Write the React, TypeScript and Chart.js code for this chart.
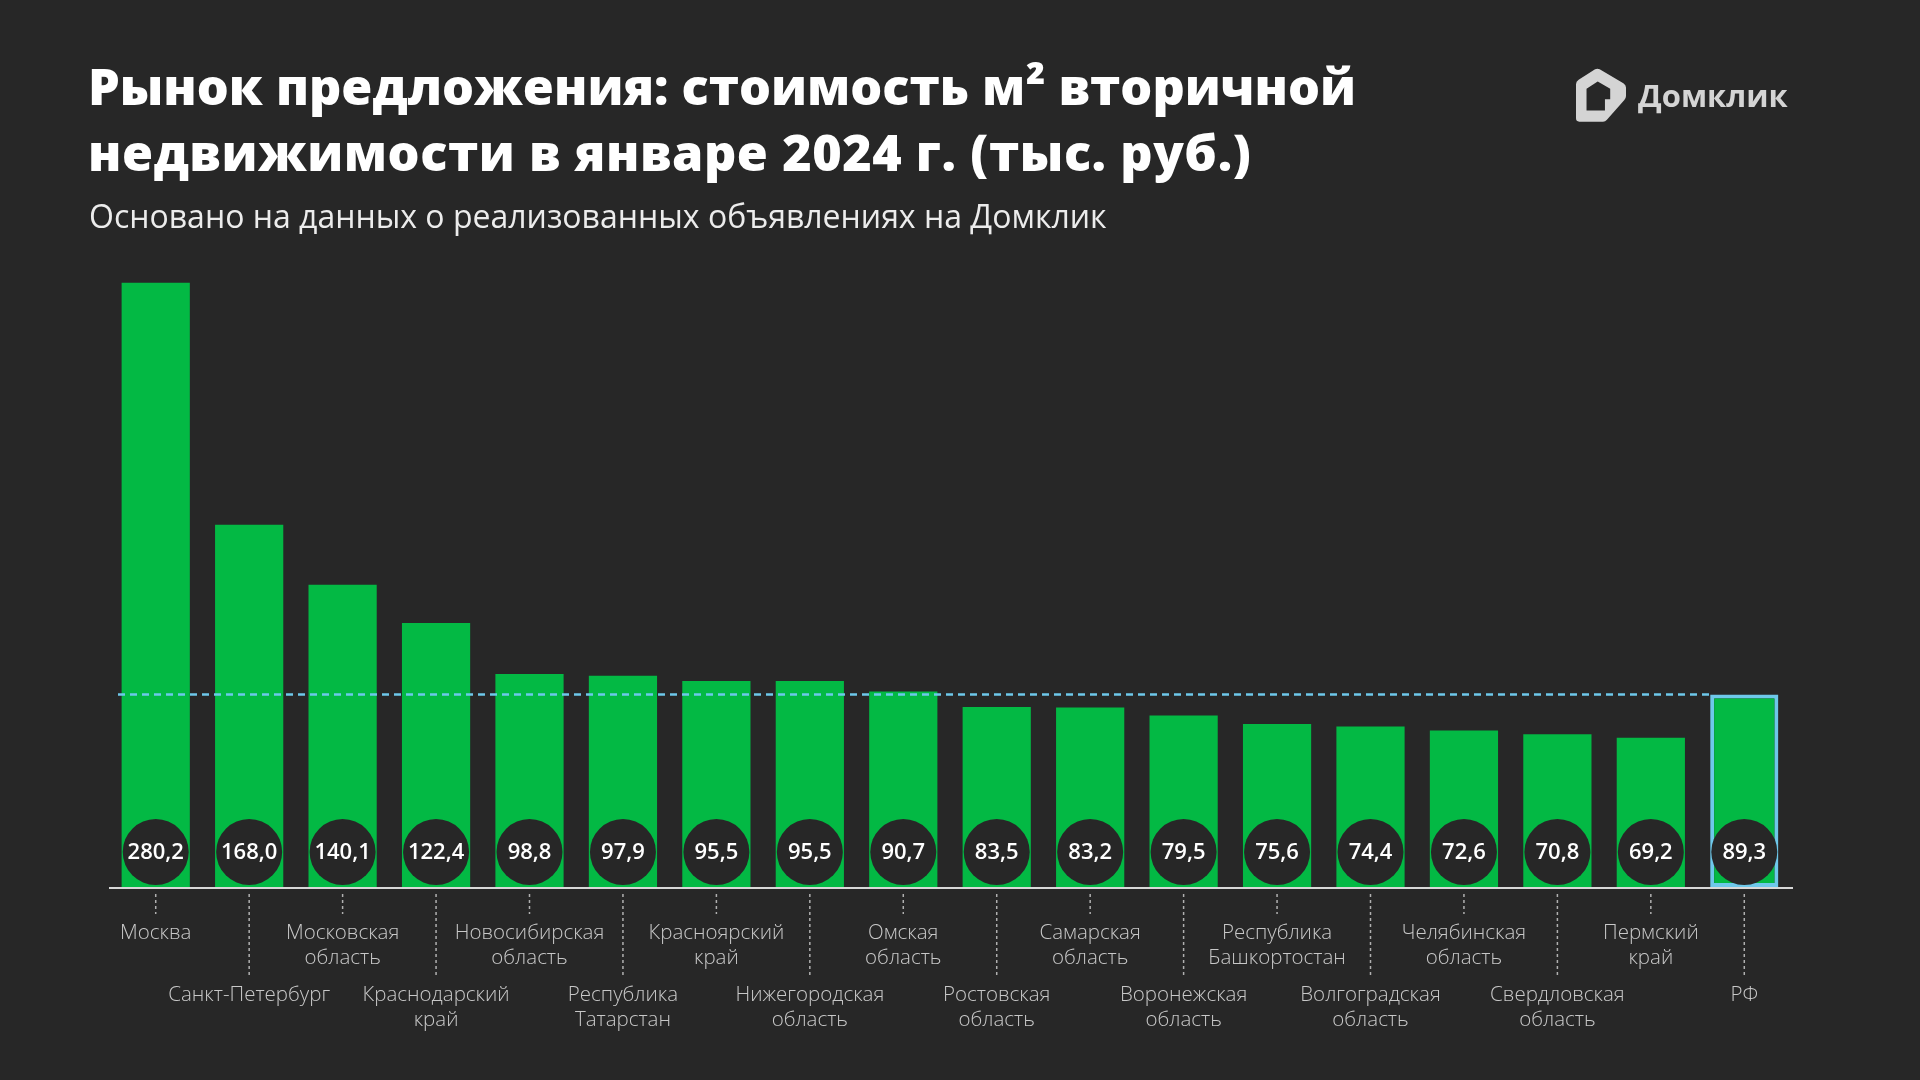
import React, { useEffect, useRef } from "react";
import { Chart, registerables } from "chart.js";

Chart.register(...registerables);

const categories: string[][] = [
  ["Москва"],
  ["Санкт-Петербург"],
  ["Московская", "область"],
  ["Краснодарский", "край"],
  ["Новосибирская", "область"],
  ["Республика", "Татарстан"],
  ["Красноярский", "край"],
  ["Нижегородская", "область"],
  ["Омская", "область"],
  ["Ростовская", "область"],
  ["Самарская", "область"],
  ["Воронежская", "область"],
  ["Республика", "Башкортостан"],
  ["Волгоградская", "область"],
  ["Челябинская", "область"],
  ["Свердловская", "область"],
  ["Пермский", "край"],
  ["РФ"],
];

const prices: number[] = [
  280.2, 168.0, 140.1, 122.4, 98.8, 97.9, 95.5, 95.5, 90.7, 83.5, 83.2, 79.5,
  75.6, 74.4, 72.6, 70.8, 69.2, 89.3,
];

const averageIndex = 17;

const TITLE_LINES = [
  "Рынок предложения: стоимость м² вторичной",
  "недвижимости в январе 2024 г. (тыс. руб.)",
];
const TITLE_SPACING = ["0px", "0.55px"];
const SUBTITLE = "Основано на данных о реализованных объявлениях на Домклик";

const BG = "#272727";
const GREEN = "#03b944";
const BLUE = "#6ec8ea";

const overlayPlugin = {
  id: "overlay",
  afterDatasetsDraw(chart: any) {
    const { ctx, chartArea, scales } = chart;
    const xs = scales.x;
    const ys = scales.y;
    const y0 = ys.getPixelForValue(0);
    const meta = chart.getDatasetMeta(0);

    ctx.save();
    // average dashed line
    const avgY = ys.getPixelForValue(prices[averageIndex]);
    const rfBar = meta.data[averageIndex];
    ctx.strokeStyle = BLUE;
    ctx.lineWidth = 2.5;
    ctx.setLineDash([7, 5]);
    ctx.beginPath();
    ctx.moveTo(chartArea.left + 9, avgY);
    ctx.lineTo(rfBar.x - rfBar.width / 2, avgY);
    ctx.stroke();
    ctx.setLineDash([]);

    // axis line
    ctx.strokeStyle = "#d8d8d8";
    ctx.lineWidth = 2;
    ctx.beginPath();
    ctx.moveTo(chartArea.left, y0 + 1);
    ctx.lineTo(chartArea.right + 2, y0 + 1);
    ctx.stroke();

    // value circles
    prices.forEach((v, i) => {
      const cx = xs.getPixelForValue(i);
      const cy = y0 - 35;
      ctx.fillStyle = BG;
      ctx.beginPath();
      ctx.arc(cx, cy, 33, 0, Math.PI * 2);
      ctx.fill();
      ctx.fillStyle = "#ffffff";
      ctx.font = "600 22px 'Open Sans'";
      ctx.textAlign = "center";
      ctx.textBaseline = "middle";
      ctx.fillText(v.toFixed(1).replace(".", ","), cx, cy + 1);
    });

    // category labels with dotted ticks
    categories.forEach((lines, i) => {
      const cx = xs.getPixelForValue(i);
      const row2 = i % 2 === 1;
      ctx.strokeStyle = "#b0b0b0";
      ctx.lineWidth = 1.5;
      ctx.setLineDash([3, 3]);
      ctx.beginPath();
      ctx.moveTo(cx, y0 + 7);
      ctx.lineTo(cx, row2 ? y0 + 88 : y0 + 27);
      ctx.stroke();
      ctx.setLineDash([]);
      ctx.fillStyle = "#c8c8c8";
      ctx.font = "300 20.5px 'Open Sans'";
      ctx.textAlign = "center";
      ctx.textBaseline = "middle";
      const startY = row2 ? y0 + 108 : y0 + 46;
      lines.forEach((ln, k) => {
        ctx.fillText(ln, cx, startY + k * 25);
      });
    });
    ctx.restore();
  },
};

export default function App() {
  const canvasRef = useRef<HTMLCanvasElement | null>(null);

  useEffect(() => {
    document.body.style.margin = "0";
    document.body.style.background = BG;
    const canvas = canvasRef.current;
    if (!canvas) return;
    const chart = new Chart(canvas, {
      type: "bar",
      data: {
        labels: categories.map((c) => c.join(" ")),
        datasets: [
          {
            data: prices,
            backgroundColor: GREEN,
            borderColor: prices.map((_, i) => (i === averageIndex ? BLUE : GREEN)),
            borderWidth: prices.map((_, i) => (i === averageIndex ? 4 : 0)),
            borderSkipped: false,
            categoryPercentage: 1,
            barPercentage: 0.73,
          },
        ],
      },
      options: {
        responsive: false,
        animation: false,
        devicePixelRatio: 1,
        layout: { padding: { left: 109, right: 129, top: 240, bottom: 193 } },
        plugins: {
          legend: { display: false },
          title: { display: false },
          tooltip: { enabled: false },
        },
        scales: {
          x: { display: false, offset: true },
          y: { display: false, min: 0, max: 300 },
        },
      },
      plugins: [overlayPlugin],
    });
    return () => chart.destroy();
  }, []);

  return (
    <div
      style={{
        position: "absolute",
        left: 0,
        top: 0,
        width: 1920,
        height: 1080,
        background: BG,
        overflow: "hidden",
      }}
    >
      <canvas
        ref={canvasRef}
        width={1920}
        height={1080}
        style={{ position: "absolute", left: 0, top: 0, width: 1920, height: 1080 }}
      />
      <div
        style={{
          position: "absolute",
          left: 88,
          top: 53,
          color: "#ffffff",
          fontFamily: "'Open Sans', sans-serif",
          fontWeight: 800,
          fontSize: 50.3,
          lineHeight: "66px",
          whiteSpace: "nowrap",
        }}
      >
        {TITLE_LINES.map((l, i) => (
          <div key={i} style={{ letterSpacing: TITLE_SPACING[i] }}>
            {l}
          </div>
        ))}
      </div>
      <div
        style={{
          position: "absolute",
          left: 89,
          top: 196,
          color: "#ececec",
          fontFamily: "'Open Sans', sans-serif",
          fontWeight: 400,
          fontSize: 32,
          lineHeight: "40px",
          whiteSpace: "nowrap",
        }}
      >
        {SUBTITLE}
      </div>
      <div
        style={{
          position: "absolute",
          left: 1576,
          top: 68,
          display: "flex",
          alignItems: "center",
        }}
      >
        <svg width={50} height={54} viewBox="0 0 152 162">
          <path
            fillRule="evenodd"
            fill="#d4d4d4"
            d="M0,48 Q0,40 8,35 L58,3 Q65,-1 72,3 L144,45 Q152,50 152,58 L152,84 Q152,90 147,96 L94,156 Q89,162 82,162 L10,162 Q0,162 0,152 Z M32,62 L66,40 L104,62 L104,94 L88,94 L88,128 L32,128 Z"
          />
        </svg>
        <div
          style={{
            marginLeft: 12,
            color: "#d4d4d4",
            fontFamily: "'Open Sans', sans-serif",
            fontWeight: 700,
            fontSize: 31,
            lineHeight: "40px",
            whiteSpace: "nowrap",
          }}
        >
          Домклик
        </div>
      </div>
    </div>
  );
}
